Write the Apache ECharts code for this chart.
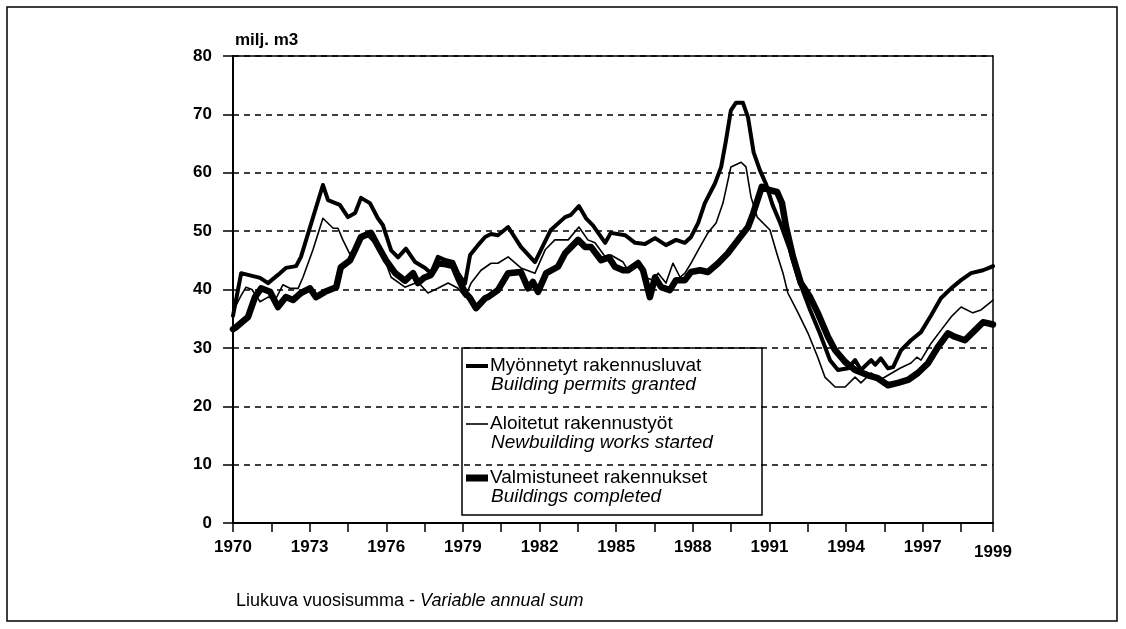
<!DOCTYPE html>
<html>
<head>
<meta charset="utf-8">
<script src="https://cdn.jsdelivr.net/npm/echarts@6/dist/echarts.min.js"></script>
<style>
  html, body { margin: 0; padding: 0; background: #fff; }
  #chart { width: 1126px; height: 629px; }
</style>
</head>
<body>
<div id="chart"></div>
<script>
// building volume, milj. m3, variable annual sum
const permitsYears = [1970.00, 1970.32, 1970.59, 1971.06, 1971.37, 1971.76, 1972.07, 1972.47, 1972.66, 1973.52,
  1973.72, 1974.18, 1974.50, 1974.78, 1975.01, 1975.36, 1975.67, 1975.87, 1976.19, 1976.46,
  1976.77, 1977.13, 1977.52, 1977.75, 1978.02, 1978.34, 1978.62, 1978.81, 1979.08, 1979.28,
  1979.59, 1979.87, 1980.10, 1980.37, 1980.77, 1981.27, 1981.82, 1982.44, 1983.00, 1983.23,
  1983.54, 1983.82, 1984.09, 1984.57, 1984.79, 1985.35, 1985.74, 1986.13, 1986.52, 1986.95,
  1987.34, 1987.69, 1987.93, 1988.21, 1988.47, 1988.87, 1989.11, 1989.30, 1989.49, 1989.69,
  1989.96, 1990.16, 1990.38, 1990.62, 1990.87, 1991.12, 1991.42, 1991.80, 1992.19, 1992.59,
  1992.97, 1993.37, 1993.68, 1994.08, 1994.35, 1994.58, 1994.98, 1995.14, 1995.36, 1995.64,
  1995.84, 1996.15, 1996.54, 1996.93, 1997.33, 1997.71, 1998.11, 1998.50, 1998.89, 1999.36,
  1999.64, 1999.75]
const permitsValues = [35.5, 42.8, 42.5, 42.0, 41.1, 42.5, 43.7, 44.0, 45.6, 57.9,
  55.3, 54.5, 52.4, 53.1, 55.7, 54.8, 52.2, 51.0, 46.7, 45.5,
  47.0, 44.7, 43.7, 42.8, 45.6, 45.0, 44.7, 42.8, 41.0, 45.9,
  47.6, 49.0, 49.5, 49.3, 50.7, 47.3, 44.7, 50.2, 52.4, 52.8,
  54.3, 52.2, 51.0, 48.0, 49.7, 49.3, 48.0, 47.8, 48.8, 47.6,
  48.5, 48.0, 49.0, 51.4, 54.8, 58.2, 61.0, 65.6, 70.7, 72.0,
  72.0, 69.5, 63.5, 60.5, 58.0, 54.5, 51.4, 46.8, 41.1, 36.5,
  32.5, 27.9, 26.2, 26.5, 27.9, 26.2, 27.9, 27.1, 28.2, 26.5,
  26.7, 29.6, 31.3, 32.7, 35.6, 38.5, 40.2, 41.6, 42.8, 43.3,
  43.8, 44.0]

const startedYears = [1970.00, 1970.08, 1970.32, 1970.51, 1970.74, 1971.06, 1971.37, 1971.69, 1971.95, 1972.23,
  1972.55, 1972.74, 1973.13, 1973.52, 1973.92, 1974.11, 1974.30, 1974.58, 1974.89, 1975.25,
  1975.79, 1975.99, 1976.19, 1976.73, 1977.24, 1977.63, 1978.02, 1978.42, 1978.81, 1979.08,
  1979.32, 1979.71, 1980.10, 1980.37, 1980.77, 1981.27, 1981.82, 1982.22, 1982.60, 1983.12,
  1983.54, 1983.89, 1984.17, 1984.57, 1984.79, 1985.27, 1985.46, 1985.86, 1986.13, 1986.44,
  1986.64, 1986.95, 1987.22, 1987.50, 1987.69, 1987.93, 1988.28, 1988.59, 1988.91, 1989.18,
  1989.49, 1989.89, 1990.08, 1990.28, 1990.52, 1991.02, 1991.30, 1991.53, 1991.72, 1992.12,
  1992.51, 1992.89, 1993.17, 1993.57, 1993.96, 1994.35, 1994.58, 1994.98, 1995.32, 1995.64,
  1996.11, 1996.54, 1996.77, 1996.93, 1997.33, 1997.71, 1998.11, 1998.50, 1998.96, 1999.28,
  1999.67, 1999.75]
const startedValues = [36.0, 37.0, 39.0, 40.4, 40.0, 37.9, 38.7, 38.5, 40.8, 40.2,
  40.2, 42.1, 46.8, 52.2, 50.5, 50.5, 48.5, 46.0, 48.0, 49.2,
  46.8, 44.5, 42.1, 40.4, 41.3, 39.4, 40.2, 41.1, 40.2, 38.7,
  41.1, 43.3, 44.5, 44.5, 45.6, 43.7, 42.8, 46.8, 48.5, 48.5,
  50.7, 48.5, 48.0, 45.6, 45.9, 44.7, 43.3, 45.0, 42.1, 41.6,
  42.8, 41.1, 44.5, 42.1, 42.8, 44.5, 47.3, 49.7, 51.4, 54.8,
  61.0, 61.8, 61.0, 55.8, 52.4, 50.2, 46.0, 42.8, 39.4, 36.0,
  32.5, 28.4, 25.0, 23.3, 23.3, 25.0, 24.0, 25.7, 24.5, 25.3,
  26.5, 27.4, 28.4, 27.9, 30.8, 33.0, 35.3, 37.0, 36.0, 36.5,
  37.9, 38.2]

const completedYears = [1970.00, 1970.08, 1970.59, 1970.86, 1971.10, 1971.45, 1971.76, 1972.07, 1972.35, 1972.66,
  1973.01, 1973.25, 1973.60, 1974.04, 1974.22, 1974.58, 1974.78, 1975.01, 1975.40, 1975.67,
  1975.99, 1976.35, 1976.73, 1977.05, 1977.24, 1977.48, 1977.75, 1978.02, 1978.34, 1978.62,
  1978.81, 1979.08, 1979.28, 1979.51, 1979.87, 1979.98, 1980.37, 1980.77, 1981.27, 1981.55,
  1981.74, 1981.94, 1982.26, 1982.72, 1983.00, 1983.51, 1983.78, 1984.01, 1984.41, 1984.71,
  1984.95, 1985.27, 1985.46, 1985.86, 1986.05, 1986.32, 1986.52, 1986.76, 1987.10, 1987.34,
  1987.69, 1987.93, 1988.28, 1988.59, 1988.99, 1989.37, 1989.77, 1990.16, 1990.36, 1990.70,
  1991.02, 1991.30, 1991.49, 1991.65, 1991.92, 1992.23, 1992.59, 1992.89, 1993.29, 1993.57,
  1993.96, 1994.35, 1994.86, 1995.24, 1995.64, 1996.03, 1996.42, 1996.81, 1997.21, 1997.60,
  1997.99, 1998.26, 1998.65, 1999.04, 1999.36, 1999.75]
const completedValues = [33.2, 33.4, 35.3, 38.7, 40.2, 39.6, 37.0, 38.7, 38.2, 39.4,
  40.2, 38.7, 39.6, 40.4, 43.8, 45.0, 46.8, 49.0, 49.7, 47.5,
  45.0, 42.8, 41.5, 42.8, 41.1, 42.0, 42.5, 44.5, 44.3, 44.0,
  42.0, 39.5, 38.5, 36.8, 38.5, 38.7, 39.9, 42.8, 43.0, 40.2,
  41.3, 39.6, 42.8, 43.9, 46.2, 48.5, 47.3, 47.3, 45.0, 45.5,
  43.9, 43.3, 43.3, 44.5, 43.3, 38.7, 42.1, 40.4, 39.9, 41.6,
  41.6, 43.0, 43.3, 43.0, 44.5, 46.2, 48.5, 50.7, 53.0, 57.6,
  57.0, 56.7, 54.8, 50.7, 45.6, 41.1, 38.7, 36.0, 31.9, 29.6,
  27.6, 26.2, 25.3, 24.8, 23.6, 24.0, 24.5, 25.7, 27.4, 30.2,
  32.5, 31.9, 31.3, 33.0, 34.4, 34.0]

const FONT = "'Liberation Sans', Arial, Helvetica, sans-serif"
const X_END = 1999.75
const labelYears = [1970, 1973, 1976, 1979, 1982, 1985, 1988, 1991, 1994, 1997]

function pairs(xs, ys) {
  return xs.map((x, i) => [x, ys[i]])
}

function legendEntry(y, width, name, nameEn) {
  return [
    { type: 'line', shape: { x1: 466, y1: y, x2: 488, y2: y }, style: { stroke: '#000', lineWidth: width } },
    { type: 'text', x: 490, y: y, style: { text: name, font: '19px ' + FONT, fill: '#000', verticalAlign: 'middle' } },
    { type: 'text', x: 491, y: y + 19, style: { text: nameEn, font: 'italic 19px ' + FONT, fill: '#000', verticalAlign: 'middle' } }
  ]
}

const chart = echarts.init(document.getElementById('chart'))
chart.setOption({
  backgroundColor: '#fff',
  animation: false,
  title: {
    text: 'milj. m3',
    left: 230,
    top: 27,
    textStyle: { fontFamily: FONT, fontSize: 17, fontWeight: 'bold', color: '#000' }
  },
  grid: {
    left: 233, right: 133, top: 56, bottom: 106,
    show: true, borderColor: '#000', borderWidth: 1.5
  },
  xAxis: {
    type: 'value',
    min: 1970, max: X_END, interval: 1.5,
    axisLine: { lineStyle: { color: '#000', width: 2 } },
    axisTick: { length: 9, lineStyle: { color: '#000', width: 1.5 } },
    splitLine: { show: false },
    axisLabel: {
      margin: 16,
      showMinLabel: true, showMaxLabel: true,
      fontFamily: FONT, fontSize: 17, fontWeight: 'bold', color: '#000',
      formatter: v => {
        if (v === X_END) return '{last|1999}'
        return labelYears.indexOf(v) >= 0 ? String(v) : ''
      },
      rich: { last: { fontFamily: FONT, fontSize: 17, fontWeight: 'bold', color: '#000', padding: [5, 0, 0, 0] } }
    }
  },
  yAxis: {
    type: 'value',
    min: 0, max: 80, interval: 10,
    axisLine: { show: true, lineStyle: { color: '#000', width: 2 } },
    axisTick: { show: true, length: 10, lineStyle: { color: '#000', width: 1.5 } },
    splitLine: { lineStyle: { color: '#000', width: 1.5, type: [6, 5] } },
    axisLabel: { margin: 21, fontFamily: FONT, fontSize: 17, fontWeight: 'bold', color: '#000' }
  },
  series: [
    {
      name: 'Valmistuneet rakennukset', type: 'line', showSymbol: false,
      data: pairs(completedYears, completedValues),
      lineStyle: { color: '#000', width: 6.5, join: 'round', cap: 'round' }
    },
    {
      name: 'Myönnetyt rakennusluvat', type: 'line', showSymbol: false,
      data: pairs(permitsYears, permitsValues),
      lineStyle: { color: '#000', width: 4, join: 'round', cap: 'round' }
    },
    {
      name: 'Aloitetut rakennustyöt', type: 'line', showSymbol: false,
      data: pairs(startedYears, startedValues),
      lineStyle: { color: '#000', width: 1.6, join: 'round', cap: 'round' }
    }
  ],
  graphic: [
    {
      type: 'rect', z: 100, silent: true,
      shape: { x: 7, y: 7, width: 1110, height: 614 },
      style: { fill: null, stroke: '#000', lineWidth: 1.5 }
    },
    {
      type: 'group', z: 100,
      children: [
        { type: 'rect', shape: { x: 462, y: 348, width: 300, height: 167 }, style: { fill: '#fff', stroke: '#000', lineWidth: 1.5 } }
      ].concat(
        legendEntry(366, 4, 'Myönnetyt rakennusluvat', 'Building permits granted'),
        legendEntry(424, 1.6, 'Aloitetut rakennustyöt', 'Newbuilding works started'),
        legendEntry(478, 7, 'Valmistuneet rakennukset', 'Buildings completed')
      )
    },
    {
      type: 'text', z: 100, x: 236, y: 601,
      style: {
        text: '{r|Liukuva vuosisumma - }{i|Variable annual sum}',
        verticalAlign: 'middle',
        rich: {
          r: { font: '18px ' + FONT, fill: '#000' },
          i: { font: 'italic 18px ' + FONT, fill: '#000' }
        }
      }
    }
  ]
})
</script>
</body>
</html>
